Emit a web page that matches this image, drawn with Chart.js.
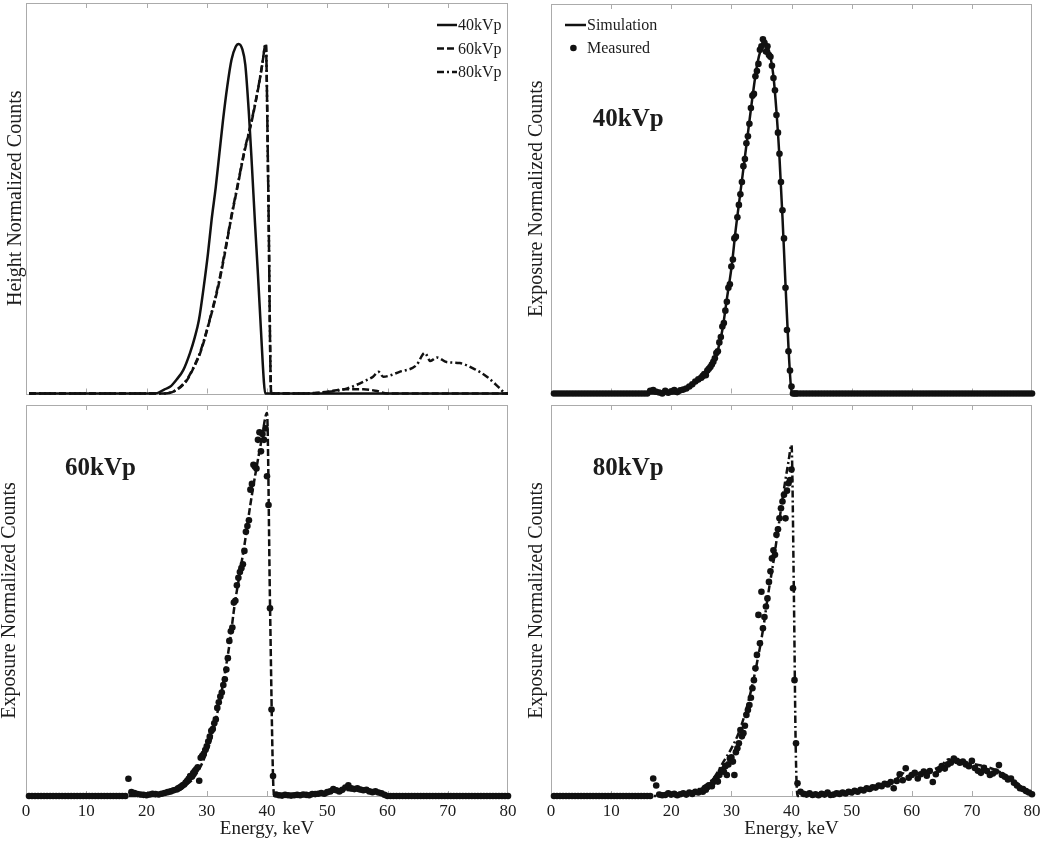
<!DOCTYPE html>
<html>
<head>
<meta charset="utf-8">
<script src="https://cdn.jsdelivr.net/npm/chart.js@4.4.1/dist/chart.umd.min.js"></script>
<style>
  html, body { margin: 0; padding: 0; background: #ffffff; }
  body { width: 1050px; height: 841px; position: relative; overflow: hidden; }
  canvas { position: absolute; }
</style>
</head>
<body>
<canvas id="tl" width="525" height="400" style="left:0px;top:0px"></canvas>
<canvas id="tr" width="525" height="400" style="left:525px;top:0px"></canvas>
<canvas id="bl" width="525" height="441" style="left:0px;top:400px"></canvas>
<canvas id="br" width="525" height="441" style="left:525px;top:400px"></canvas>
<script>
// ---------------- DATA ----------------
const energyTicks = [0, 10, 20, 30, 40, 50, 60, 70, 80];

// Top-left panel: height-normalized simulated spectra
const sim40HeightEnergy = [0.5, 21.5, 23, 23.9, 25, 26.1, 27.2, 28, 28.7, 29.5, 30.2, 30.8, 31.5, 32.1, 32.7, 33.4, 34.1, 34.8, 35.3, 35.9, 36.4, 37, 37.5, 38, 38.5, 39, 39.5, 39.7, 80];
const sim40Height       = [0, 0, 0.012, 0.019, 0.04, 0.067, 0.115, 0.16, 0.21, 0.305, 0.4, 0.496, 0.591, 0.687, 0.782, 0.878, 0.954, 0.992, 1.0, 0.985, 0.94, 0.8, 0.65, 0.49, 0.34, 0.18, 0.03, 0, 0];

const sim60HeightEnergy = [0.5, 23, 25, 26.7, 28, 28.9, 30.5, 31.9, 33, 34, 35.1, 36.2, 37.5, 38.6, 39.2, 39.8, 40.2, 40.7, 48, 50, 53, 56, 58, 60, 80];
const sim60Height       = [0, 0, 0.01, 0.038, 0.08, 0.115, 0.21, 0.305, 0.4, 0.496, 0.591, 0.687, 0.782, 0.878, 0.94, 1.0, 0.6, 0, 0, 0.005, 0.012, 0.012, 0.008, 0, 0];

const sim80HeightEnergy = [0.5, 23, 25, 26.7, 28, 28.9, 30.5, 31.9, 33, 34, 35.1, 36.2, 37.5, 38.6, 39.2, 39.8, 40.2, 40.7, 46, 48.2, 53.2, 56.5, 57.6, 58.5, 59.3, 62, 64.8, 66.2, 67.1, 68.2, 69.8, 72, 74.2, 76.5, 78.7, 79.6, 80];
const sim80Height       = [0, 0, 0.011, 0.04, 0.082, 0.118, 0.212, 0.31, 0.405, 0.5, 0.594, 0.69, 0.785, 0.88, 0.94, 1.0, 0.6, 0, 0, 0.002, 0.014, 0.038, 0.048, 0.062, 0.048, 0.062, 0.081, 0.116, 0.093, 0.103, 0.09, 0.087, 0.072, 0.048, 0.014, 0, 0];

// Exposure-normalized simulated spectra
const sim40Energy = [0.5, 21, 22.1, 23.5, 25.5, 26.5, 27.1, 28, 28.5, 29.3, 30.1, 30.7, 31.4, 32.1, 32.8, 33.5, 34.3, 35, 35.5, 36, 36.5, 37, 37.5, 38, 38.5, 39, 39.5, 39.9, 40.1, 80];
const sim40Counts = [0, 0, 0.01, 0.025, 0.047, 0.07, 0.085, 0.14, 0.18, 0.274, 0.368, 0.462, 0.557, 0.651, 0.745, 0.84, 0.934, 0.981, 1.0, 0.985, 0.955, 0.9, 0.8, 0.67, 0.5, 0.31, 0.13, 0.02, 0, 0];

const sim60Energy = [0.5, 22, 23, 24, 25, 25.7, 26.5, 27.6, 29, 30, 30.7, 32, 33, 33.9, 34.6, 35.5, 36.4, 37.2, 38.1, 39.1, 40, 40.5, 41, 41.2, 47, 50, 53, 56, 59, 60, 80];
const sim60Counts = [0, 0, 0.004, 0.008, 0.013, 0.017, 0.028, 0.043, 0.078, 0.115, 0.148, 0.235, 0.32, 0.41, 0.496, 0.583, 0.67, 0.757, 0.843, 0.93, 1.0, 0.5, 0.05, 0, 0, 0.008, 0.016, 0.012, 0.006, 0, 0];

const sim80Energy = [0.5, 21, 22.6, 24.8, 27, 28.7, 30.3, 31.5, 33.1, 34.3, 35.3, 36.1, 37, 37.8, 38.6, 39.5, 40, 40.4, 40.7, 41, 43, 46, 50, 53, 56, 57.6, 58.5, 59.3, 62, 64.8, 66.2, 67.1, 68.2, 70, 72, 74.2, 76.5, 78.7, 80];
const sim80Counts = [0, 0, 0.008, 0.022, 0.05, 0.098, 0.145, 0.193, 0.288, 0.383, 0.478, 0.573, 0.668, 0.763, 0.858, 0.953, 1.0, 0.57, 0.14, 0, 0.002, 0.004, 0.01, 0.018, 0.035, 0.05, 0.065, 0.056, 0.068, 0.085, 0.105, 0.095, 0.1, 0.092, 0.085, 0.072, 0.05, 0.02, 0.003];

// Measured spectra (shared energy grid)
const measuredEnergy = [
  0.5, 1, 1.5, 2, 2.5, 3, 3.5, 4, 4.5, 5,
  5.5, 6, 6.5, 7, 7.5, 8, 8.5, 9, 9.5, 10,
  10.5, 11, 11.5, 12, 12.5, 13, 13.5, 14, 14.5, 15,
  15.5, 16, 16.5, 17, 17.5, 18, 18.5, 19, 19.5, 20,
  20.5, 21, 21.5, 22, 22.5, 23, 23.5, 24, 24.5,
  25, 25.25, 25.5, 25.75, 26, 26.25, 26.5, 26.75, 27, 27.25,
  27.5, 27.75, 28, 28.25, 28.5, 28.75, 29, 29.25, 29.5, 29.75,
  30, 30.25, 30.5, 30.75, 31, 31.25, 31.5, 31.75, 32, 32.25,
  32.5, 32.75, 33, 33.25, 33.5, 33.75, 34, 34.25, 34.5, 34.75,
  35, 35.25, 35.5, 35.75, 36, 36.25, 36.5, 36.75, 37, 37.25,
  37.5, 37.75, 38, 38.25, 38.5, 38.75, 39, 39.25, 39.5, 39.75,
  40, 40.25, 40.5, 40.75, 41,
  41.5, 42, 42.5, 43, 43.5, 44, 44.5, 45, 45.5, 46,
  46.5, 47, 47.5, 48, 48.5, 49, 49.5, 50, 50.5, 51,
  51.5, 52, 52.5, 53, 53.5, 54, 54.5, 55, 55.5, 56,
  56.5, 57, 57.5, 58, 58.5, 59, 59.5, 60, 60.5, 61,
  61.5, 62, 62.5, 63, 63.5, 64, 64.5, 65, 65.5, 66,
  66.5, 67, 67.5, 68, 68.5, 69, 69.5, 70, 70.5, 71,
  71.5, 72, 72.5, 73, 73.5, 74, 74.5, 75, 75.5, 76,
  76.5, 77, 77.5, 78, 78.5, 79, 79.5, 80
];

const measured40 = [
  0, 0, 0, 0, 0, 0, 0, 0, 0, 0,
  0, 0, 0, 0, 0, 0, 0, 0, 0, 0,
  0, 0, 0, 0, 0, 0, 0, 0, 0, 0,
  0, 0, 0.008, 0.01, 0.005, 0.003, 0, 0.008, 0.002, 0.006,
  0.01, 0.004, 0.009, 0.011, 0.014, 0.02, 0.026, 0.034, 0.04,
  0.045, 0.05, 0.055, 0.052, 0.065, 0.07, 0.075, 0.082, 0.09, 0.1,
  0.115, 0.12, 0.145, 0.16, 0.19, 0.2, 0.235, 0.26, 0.3, 0.31,
  0.36, 0.38, 0.44, 0.445, 0.5, 0.535, 0.565, 0.6, 0.645, 0.665,
  0.71, 0.73, 0.765, 0.81, 0.845, 0.85, 0.9, 0.915, 0.935, 0.975,
  0.985, 1.005, 0.995, 0.97, 0.985, 0.96, 0.955, 0.93, 0.895, 0.86,
  0.79, 0.74, 0.68, 0.6, 0.52, 0.44, 0.3, 0.18, 0.12, 0.065,
  0.02, 0, 0, 0, 0,
  0, 0, 0, 0, 0, 0, 0, 0, 0, 0,
  0, 0, 0, 0, 0, 0, 0, 0, 0, 0,
  0, 0, 0, 0, 0, 0, 0, 0, 0, 0,
  0, 0, 0, 0, 0, 0, 0, 0, 0, 0,
  0, 0, 0, 0, 0, 0, 0, 0, 0, 0,
  0, 0, 0, 0, 0, 0, 0, 0, 0, 0,
  0, 0, 0, 0, 0, 0, 0, 0, 0, 0,
  0, 0, 0, 0, 0, 0, 0, 0
];

const measured60 = [
  0, 0, 0, 0, 0, 0, 0, 0, 0, 0,
  0, 0, 0, 0, 0, 0, 0, 0, 0, 0,
  0, 0, 0, 0, 0, 0, 0, 0, 0, 0,
  0, 0, 0, 0.045, 0.01, 0.008, 0.005, 0.004, 0.003, 0.002,
  0.004, 0.006, 0.005, 0.004, 0.006, 0.008, 0.01, 0.012, 0.015,
  0.017, 0.02, 0.022, 0.025, 0.028, 0.03, 0.035, 0.04, 0.045, 0.052,
  0.05, 0.06, 0.065, 0.07, 0.075, 0.04, 0.1, 0.105, 0.11, 0.12,
  0.13, 0.142, 0.155, 0.17, 0.175, 0.19, 0.2, 0.23, 0.245, 0.26,
  0.27, 0.29, 0.305, 0.33, 0.36, 0.405, 0.43, 0.44, 0.505, 0.51,
  0.55, 0.57, 0.585, 0.595, 0.605, 0.64, 0.69, 0.705, 0.72, 0.8,
  0.815, 0.865, 0.86, 0.855, 0.93, 0.95, 0.9, 0.945, 0.93, 0.96,
  0.835, 0.76, 0.49, 0.226, 0.052,
  0.004, 0.002, 0.001, 0.003, 0.002, 0.001, 0.002, 0.003, 0.002, 0.004,
  0.003, 0.002, 0.005, 0.005, 0.006, 0.008, 0.006, 0.01, 0.012, 0.018,
  0.015, 0.012, 0.016, 0.022, 0.028, 0.02, 0.018, 0.02, 0.017, 0.015,
  0.016, 0.012, 0.01, 0.012, 0.009, 0.007, 0.003, 0, 0, 0,
  0, 0, 0, 0, 0, 0, 0, 0, 0, 0,
  0, 0, 0, 0, 0, 0, 0, 0, 0, 0,
  0, 0, 0, 0, 0, 0, 0, 0, 0, 0,
  0, 0, 0, 0, 0, 0, 0, 0
];

const measured80 = [
  0, 0, 0, 0, 0, 0, 0, 0, 0, 0,
  0, 0, 0, 0, 0, 0, 0, 0, 0, 0,
  0, 0, 0, 0, 0, 0, 0, 0, 0, 0,
  0, 0, 0, 0.05, 0.03, 0.004, 0.002, 0.003, 0.008, 0.004,
  0.006, 0.002, 0.005, 0.008, 0.004, 0.01, 0.006, 0.012, 0.01,
  0.015, 0.012, 0.02, 0.018, 0.025, 0.03, 0.031, 0.028, 0.04, 0.045,
  0.05, 0.041, 0.06, 0.07, 0.075, 0.069, 0.085, 0.06, 0.09, 0.107,
  0.11, 0.098, 0.06, 0.125, 0.136, 0.15, 0.188, 0.17, 0.179, 0.2,
  0.231, 0.245, 0.259, 0.28, 0.307, 0.33, 0.364, 0.402, 0.516, 0.435,
  0.582, 0.478, 0.51, 0.54, 0.563, 0.61, 0.64, 0.677, 0.7, 0.687,
  0.744, 0.76, 0.791, 0.82, 0.839, 0.858, 0.791, 0.87, 0.891, 0.9,
  0.93, 0.592, 0.33, 0.15, 0.036,
  0.012, 0.006, 0.004, 0.008, 0.003, 0.005, 0.002, 0.006, 0.004, 0.01,
  0.003, 0.004, 0.008, 0.006, 0.01, 0.007, 0.012, 0.01, 0.015, 0.012,
  0.018, 0.016, 0.022, 0.02, 0.025, 0.024, 0.03, 0.028, 0.035, 0.033,
  0.04, 0.022, 0.043, 0.062, 0.045, 0.079, 0.052, 0.06, 0.066, 0.05,
  0.062, 0.07, 0.058, 0.071, 0.04, 0.062, 0.075, 0.085, 0.078, 0.09,
  0.095, 0.107, 0.1, 0.095, 0.098, 0.09, 0.085, 0.1, 0.08, 0.072,
  0.066, 0.08, 0.071, 0.06, 0.064, 0.07, 0.088, 0.06, 0.055, 0.047,
  0.05, 0.038, 0.03, 0.022, 0.02, 0.014, 0.01, 0.005
];

// ---------------- STYLE ----------------
const FONT = "'Liberation Serif', 'Times New Roman', Times, serif";
const INK = '#1c1c1c';
const FRAME = '#ababab';
const SOLID = [];
const DASH = [7, 3];
const DASHDOT = [7, 3, 2, 3];
const LINE_W = 2.5;

Chart.defaults.font.family = FONT;
Chart.defaults.color = INK;

function pairs(xs, ys) {
  const n = Math.min(xs.length, ys.length);
  const out = [];
  for (let i = 0; i < n; i++) out.push({ x: xs[i], y: ys[i] });
  return out;
}

function lineSet(label, xs, ys, dash) {
  return {
    label, data: pairs(xs, ys), showLine: true, borderColor: '#111', borderWidth: LINE_W,
    borderDash: dash, pointRadius: 0, cubicInterpolationMode: 'monotone', fill: false, clip: false
  };
}
function pointSet(label, xs, ys) {
  return {
    label, data: pairs(xs, ys), showLine: false, pointRadius: 3.3, pointBorderWidth: 0,
    pointBackgroundColor: '#111', borderColor: '#111', clip: false
  };
}

const panelDecor = {
  id: 'panelDecor',
  beforeDatasetsDraw(chart) {
    const { ctx, chartArea: a, scales: { x } } = chart;
    ctx.save();
    ctx.strokeStyle = FRAME;
    ctx.lineWidth = 1;
    ctx.strokeRect(Math.round(a.left) + 0.5, Math.round(a.top) + 0.5,
                   Math.round(a.right - a.left) - 1, Math.round(a.bottom - a.top));
    ctx.beginPath();
    for (const v of energyTicks) {
      if (v === energyTicks[0] || v === energyTicks[energyTicks.length - 1]) continue;
      const px = Math.round(x.getPixelForValue(v)) + 0.5;
      ctx.moveTo(px, a.top); ctx.lineTo(px, a.top + 5);
      ctx.moveTo(px, a.bottom); ctx.lineTo(px, a.bottom - 5);
    }
    ctx.stroke();
    ctx.restore();
  },
  afterDatasetsDraw(chart, args, opts) {
    const { ctx, scales: { x, y } } = chart;
    ctx.save();
    if (opts.tag) {
      ctx.fillStyle = INK;
      ctx.font = 'bold 25px ' + FONT;
      ctx.textAlign = 'left';
      ctx.textBaseline = 'alphabetic';
      ctx.fillText(opts.tag.text, x.getPixelForValue(opts.tag.x), y.getPixelForValue(opts.tag.y));
    }
    if (opts.legend) {
      const L = opts.legend;
      ctx.font = '16px ' + FONT;
      ctx.textBaseline = 'middle';
      ctx.textAlign = 'left';
      L.items.forEach((it, i) => {
        const yy = L.y + i * L.gap;
        if (it.point) {
          ctx.fillStyle = '#111';
          ctx.beginPath();
          ctx.arc(L.x + L.len * 0.4, yy, 3.3, 0, Math.PI * 2);
          ctx.fill();
        } else {
          ctx.strokeStyle = '#111';
          ctx.lineWidth = LINE_W;
          ctx.setLineDash(it.dash);
          ctx.beginPath();
          ctx.moveTo(L.x, yy); ctx.lineTo(L.x + L.len, yy);
          ctx.stroke();
          ctx.setLineDash([]);
        }
        ctx.fillStyle = INK;
        ctx.fillText(it.text, L.x + L.len + 1, yy + 1);
      });
    }
    ctx.restore();
  }
};

function makeChart(id, datasets, cfg) {
  return new Chart(document.getElementById(id), {
    type: 'scatter',
    data: { datasets },
    options: {
      responsive: false,
      animation: false,
      devicePixelRatio: 1,
      events: [],
      layout: { padding: cfg.padding },
      plugins: {
        legend: { display: false },
        tooltip: { enabled: false },
        panelDecor: { tag: cfg.tag, legend: cfg.legend }
      },
      scales: {
        x: {
          type: 'linear', position: 'bottom', min: energyTicks[0], max: energyTicks[energyTicks.length - 1],
          grid: { display: false, drawTicks: false },
          border: { display: false },
          afterBuildTicks(s) { s.ticks = energyTicks.map(v => ({ value: v })); },
          ticks: { display: cfg.showX, font: { family: FONT, size: 17 }, color: INK, padding: 5, maxRotation: 0, autoSkip: false },
          title: { display: cfg.showX, text: 'Energy, keV', font: { family: FONT, size: 19 }, color: INK, padding: { top: 0, bottom: 1 } },
          afterFit(s) { s.height = cfg.xHeight; }
        },
        y: {
          min: 0, max: cfg.ymax,
          grid: { display: false, drawTicks: false },
          border: { display: false },
          ticks: { display: false },
          title: { display: true, text: cfg.yTitle, font: { family: FONT, size: 20, lineHeight: 1 }, color: INK, padding: { top: cfg.yTitlePad, bottom: 0 } },
          afterFit(s) { s.width = 26; }
        }
      }
    },
    plugins: [panelDecor]
  });
}

// Top-left
makeChart('tl', [
  lineSet('40kVp', sim40HeightEnergy, sim40Height, SOLID),
  lineSet('60kVp', sim60HeightEnergy, sim60Height, DASH),
  lineSet('80kVp', sim80HeightEnergy, sim80Height, DASHDOT)
], {
  padding: { left: 0, top: 3, right: 17, bottom: 6.5 }, xHeight: 0, showX: false,
  ymax: 1.117, yTitle: 'Height Normalized Counts', yTitlePad: 5.5,
  legend: { x: 437, y: 25, gap: 23.5, len: 20, items: [
    { text: '40kVp', dash: SOLID }, { text: '60kVp', dash: DASH }, { text: '80kVp', dash: DASHDOT }
  ] }
});

// Top-right
makeChart('tr', [
  pointSet('Measured', measuredEnergy, measured40),
  lineSet('Simulation', sim40Energy, sim40Counts, SOLID)
], {
  padding: { left: 0, top: 3, right: 18, bottom: 6.5 }, xHeight: 0, showX: false,
  ymax: 1.105, yTitle: 'Exposure Normalized Counts', yTitlePad: 1.5,
  tag: { text: '40kVp', x: 6.94, y: 0.76 },
  legend: { x: 40, y: 25, gap: 23, len: 21, items: [
    { text: 'Simulation', dash: SOLID }, { text: 'Measured', point: true }
  ] }
});

// Bottom-left
makeChart('bl', [
  pointSet('Measured', measuredEnergy, measured60),
  lineSet('Simulation', sim60Energy, sim60Counts, DASH)
], {
  padding: { left: 0, top: 5, right: 17, bottom: 0 }, xHeight: 45, showX: true,
  ymax: 1.021, yTitle: 'Exposure Normalized Counts', yTitlePad: 0,
  tag: { text: '60kVp', x: 6.47, y: 0.838 }
});

// Bottom-right
makeChart('br', [
  pointSet('Measured', measuredEnergy, measured80),
  lineSet('Simulation', sim80Energy, sim80Counts, DASHDOT)
], {
  padding: { left: 0, top: 5, right: 18, bottom: 0 }, xHeight: 45, showX: true,
  ymax: 1.114, yTitle: 'Exposure Normalized Counts', yTitlePad: 2,
  tag: { text: '80kVp', x: 6.94, y: 0.915 }
});
</script>
</body>
</html>
